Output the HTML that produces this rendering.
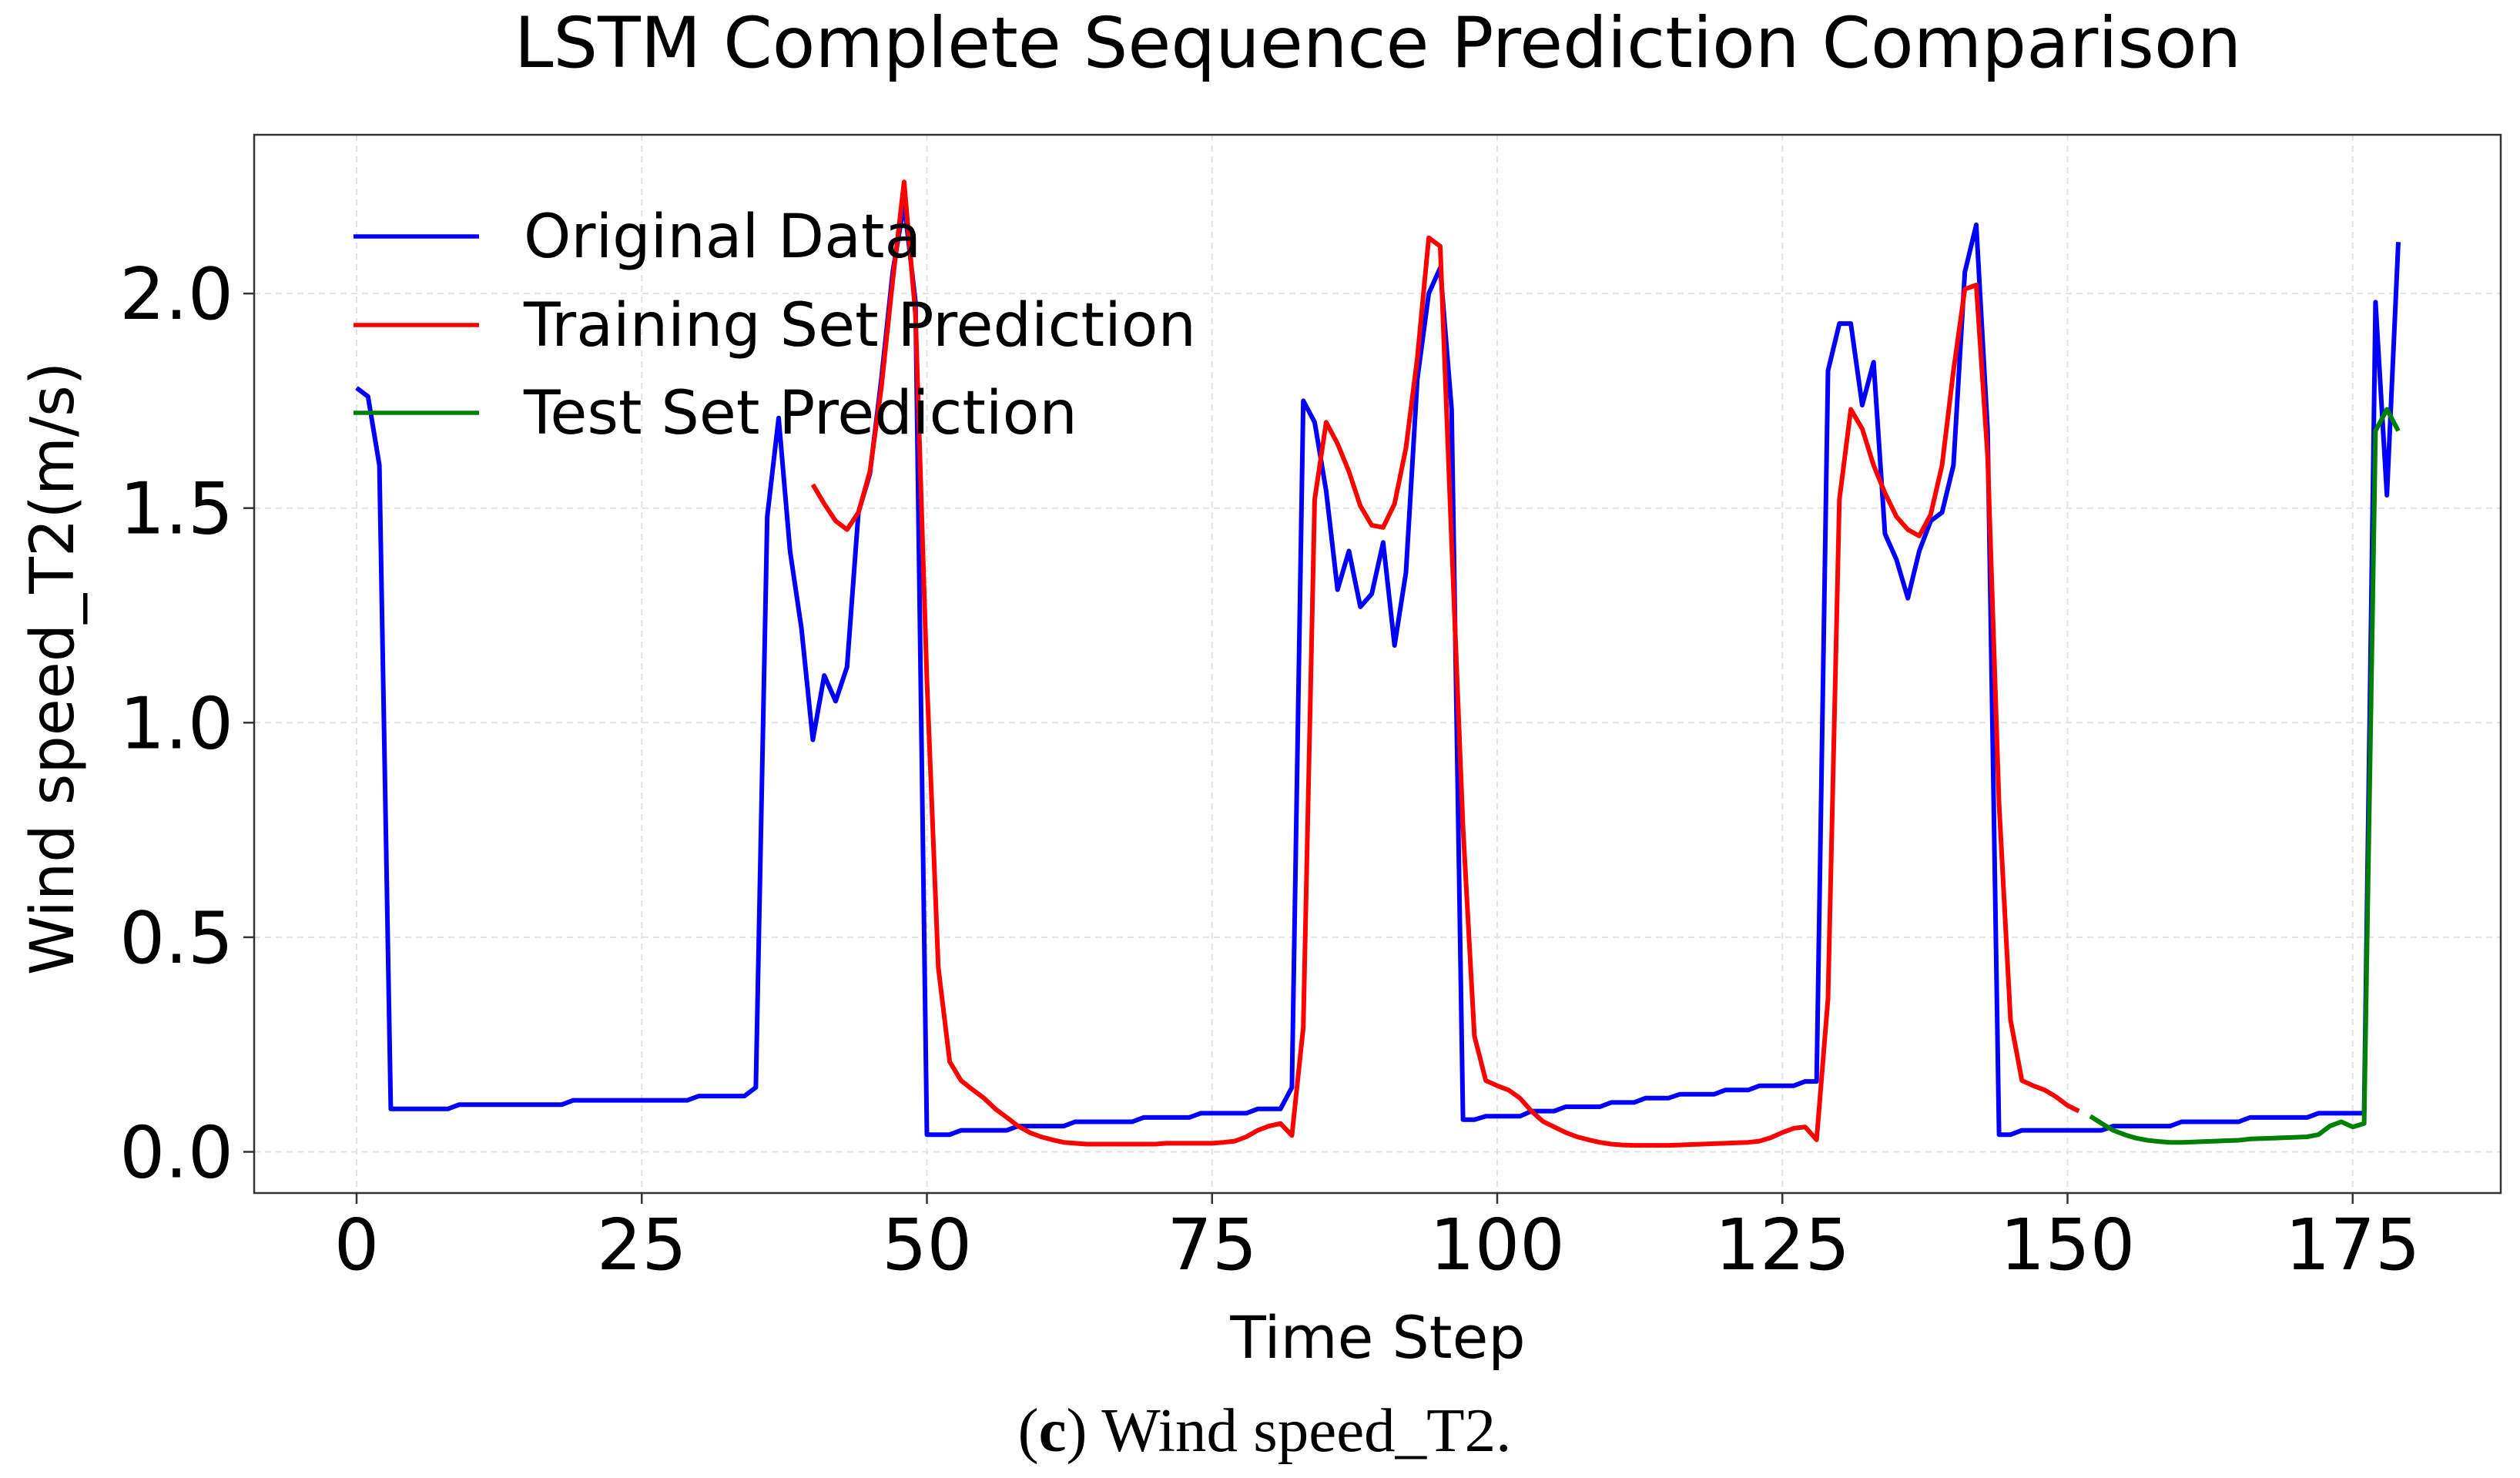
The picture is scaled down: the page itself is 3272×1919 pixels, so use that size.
<!DOCTYPE html>
<html><head><meta charset="utf-8"><style>
html,body{margin:0;padding:0;background:#fff;}
svg{display:block;}
</style></head><body>
<svg id="chart" width="3272" height="1919" viewBox="0 0 3272 1919" xmlns="http://www.w3.org/2000/svg" font-family="'DejaVu Sans','Liberation Sans',sans-serif">
<rect width="3272" height="1919" fill="#fff"/>
<text x="1789" y="87" font-size="91" text-anchor="middle" fill="#000">LSTM Complete Sequence Prediction Comparison</text>
<g id="grid"></g>
<g id="series"></g>
<rect x="330" y="175" width="2917" height="1374" fill="none" stroke="#333" stroke-width="2.5"/>
<g id="ticks"></g>
<text transform="translate(95,868) rotate(-90)" font-size="78" text-anchor="middle" fill="#000">Wind speed_T2(m/s)</text>
<text x="1789" y="1763" font-size="76" text-anchor="middle" fill="#000">Time Step</text>
<g>
<line x1="459" y1="307" x2="622" y2="307" stroke="#0000ff" stroke-width="5.5"/>
<text x="680" y="334" font-size="78" fill="#000">Original Data</text>
<line x1="459" y1="422" x2="622" y2="422" stroke="#ff0000" stroke-width="5.5"/>
<text x="680" y="449" font-size="78" fill="#000">Training Set Prediction</text>
<line x1="459" y1="536" x2="622" y2="536" stroke="#008000" stroke-width="5.5"/>
<text x="680" y="563" font-size="78" fill="#000">Test Set Prediction</text>
</g>
<text x="1642" y="1884" font-size="81" text-anchor="middle" font-family="'Liberation Serif',serif" fill="#000">(<tspan font-weight="bold">c</tspan>) Wind speed_T2.</text>
</svg>
<script>
const xTicks = [0, 25, 50, 75, 100, 125, 150, 175];
const yTicks = [0.0, 0.5, 1.0, 1.5, 2.0];
const yTickLabels = ["0.0", "0.5", "1.0", "1.5", "2.0"];
const originalData = [
1.78,1.76,1.60,0.10,0.10,0.10,0.10,0.10,0.10,0.11,
0.11,0.11,0.11,0.11,0.11,0.11,0.11,0.11,0.11,0.12,
0.12,0.12,0.12,0.12,0.12,0.12,0.12,0.12,0.12,0.12,
0.13,0.13,0.13,0.13,0.13,0.15,1.48,1.71,1.40,1.22,
0.96,1.11,1.05,1.13,1.49,1.58,1.80,2.05,2.21,1.98,
0.04,0.04,0.04,0.05,0.05,0.05,0.05,0.05,0.06,0.06,
0.06,0.06,0.06,0.07,0.07,0.07,0.07,0.07,0.07,0.08,
0.08,0.08,0.08,0.08,0.09,0.09,0.09,0.09,0.09,0.10,
0.10,0.10,0.15,1.75,1.70,1.54,1.31,1.40,1.27,1.30,
1.42,1.18,1.35,1.80,2.00,2.06,1.73,0.075,0.075,0.083,
0.083,0.083,0.083,0.095,0.095,0.095,0.105,0.105,0.105,0.105,
0.115,0.115,0.115,0.125,0.125,0.125,0.134,0.134,0.134,0.134,
0.144,0.144,0.144,0.154,0.154,0.154,0.154,0.164,0.164,1.82,
1.93,1.93,1.74,1.84,1.44,1.38,1.29,1.40,1.47,1.49,
1.60,2.05,2.16,1.68,0.04,0.04,0.05,0.05,0.05,0.05,
0.05,0.05,0.05,0.05,0.06,0.06,0.06,0.06,0.06,0.06,
0.07,0.07,0.07,0.07,0.07,0.07,0.08,0.08,0.08,0.08,
0.08,0.08,0.09,0.09,0.09,0.09,0.09,1.98,1.53,2.12];
const trainStart = 40;
const trainPred = [
1.555,1.51,1.47,1.45,1.49,1.585,1.78,2.03,2.26,1.95,
1.10,0.43,0.21,0.166,0.145,0.125,0.10,0.08,0.06,0.045,
0.035,0.028,0.022,0.02,0.018,0.018,0.018,0.018,0.018,0.018,
0.018,0.02,0.02,0.02,0.02,0.02,0.022,0.025,0.035,0.05,
0.06,0.066,0.038,0.29,1.52,1.70,1.65,1.585,1.505,1.46,
1.455,1.51,1.64,1.85,2.13,2.11,1.42,0.755,0.27,0.166,
0.154,0.144,0.125,0.095,0.071,0.058,0.045,0.035,0.028,0.022,
0.018,0.016,0.015,0.015,0.015,0.015,0.016,0.017,0.018,0.019,
0.02,0.021,0.022,0.025,0.033,0.045,0.055,0.058,0.028,0.357,
1.52,1.73,1.685,1.60,1.535,1.48,1.45,1.435,1.485,1.60,
1.82,2.01,2.02,1.62,0.81,0.307,0.166,0.154,0.144,0.128,
0.108,0.095];
const testStart = 152;
const testPred = [
0.083,0.066,0.05,0.04,0.032,0.027,0.024,0.022,0.022,0.023,
0.024,0.025,0.026,0.027,0.03,0.031,0.032,0.033,0.034,0.035,
0.04,0.06,0.07,0.058,0.066,1.68,1.73,1.68];

const X0 = 463, XS = 14.81, Y0 = 1495.5, YS = 557.2;
function xPos(v){ return X0 + v * XS; }
function yPos(v){ return Y0 - v * YS; }
const NS = "http://www.w3.org/2000/svg";
const grid = document.getElementById('grid');
const ticks = document.getElementById('ticks');
const series = document.getElementById('series');

xTicks.forEach(t => {
  const g = document.createElementNS(NS,'line');
  g.setAttribute('x1',xPos(t)); g.setAttribute('x2',xPos(t));
  g.setAttribute('y1',175); g.setAttribute('y2',1549);
  g.setAttribute('stroke','#e3e3e3'); g.setAttribute('stroke-width','2'); g.setAttribute('stroke-dasharray','8,6');
  
  
  grid.appendChild(g);
  const tk = document.createElementNS(NS,'line');
  tk.setAttribute('x1',xPos(t)); tk.setAttribute('x2',xPos(t));
  tk.setAttribute('y1',1549); tk.setAttribute('y2',1563);
  tk.setAttribute('stroke','#333'); tk.setAttribute('stroke-width','2.5');
  
  
  ticks.appendChild(tk);
  const tx = document.createElementNS(NS,'text');
  tx.setAttribute('x',xPos(t)); tx.setAttribute('y',1648);
  tx.setAttribute('font-size','92'); tx.setAttribute('text-anchor','middle');
  tx.textContent = String(t);
  
  
  ticks.appendChild(tx);
});
yTicks.forEach((t,i) => {
  const g = document.createElementNS(NS,'line');
  g.setAttribute('x1',330); g.setAttribute('x2',3247);
  g.setAttribute('y1',yPos(t)); g.setAttribute('y2',yPos(t));
  g.setAttribute('stroke','#e3e3e3'); g.setAttribute('stroke-width','2'); g.setAttribute('stroke-dasharray','8,6');
  
  
  grid.appendChild(g);
  const tk = document.createElementNS(NS,'line');
  tk.setAttribute('x1',316); tk.setAttribute('x2',330);
  tk.setAttribute('y1',yPos(t)); tk.setAttribute('y2',yPos(t));
  tk.setAttribute('stroke','#333'); tk.setAttribute('stroke-width','2.5');
  
  
  ticks.appendChild(tk);
  const tx = document.createElementNS(NS,'text');
  tx.setAttribute('x',303); tx.setAttribute('y',yPos(t)+33);
  tx.setAttribute('font-size','93'); tx.setAttribute('text-anchor','end');
  tx.textContent = yTickLabels[i];
  
  
  ticks.appendChild(tx);
});
function drawLine(vals, start, color, name){
  const pts = vals.map((v,i) => xPos(start+i).toFixed(1)+','+yPos(v).toFixed(1)).join(' ');
  const p = document.createElementNS(NS,'polyline');
  p.setAttribute('points',pts);
  p.setAttribute('fill','none'); p.setAttribute('stroke',color);
  p.setAttribute('stroke-width','6'); p.setAttribute('stroke-linejoin','round');
  
  
  series.appendChild(p);
}
drawLine(originalData, 0, '#0000ff', 'original-data-line');
drawLine(trainPred, trainStart, '#ff0000', 'training-prediction-line');
drawLine(testPred, testStart, '#008000', 'test-prediction-line');
</script>
</body></html>
